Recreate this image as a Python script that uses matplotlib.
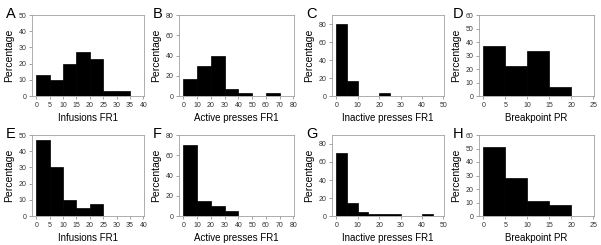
import matplotlib.pyplot as plt
import matplotlib as mpl
import numpy as np

# --- histogram data (percentage per bin)
inf_fr1_a = [13, 10, 20, 27, 23, 3, 3]
act_fr1_b = [17, 30, 40, 7, 3, 0, 3]
ina_fr1_c = [80, 17, 0, 0, 3]
brk_pr_d = [37, 22, 33, 7]
inf_fr1_e = [47, 30, 10, 5, 7.5]
act_fr1_f = [70, 15, 10, 5]
ina_fr1_g = [70, 15, 5, 2, 2, 2, 0, 0, 2]
brk_pr_h = [51, 28, 11, 8]

bin_widths = [5, 10, 5, 5, 5, 10, 5, 5]
xmax = [40, 80, 50, 25, 40, 80, 50, 25]
xstep = [5, 10, 10, 5, 5, 10, 10, 5]
ymax = [50, 80, 90, 60, 50, 80, 90, 60]
ystep = [10, 20, 20, 10, 10, 20, 20, 10]
xlabels = ['Infusions FR1', 'Active presses FR1', 'Inactive presses FR1', 'Breakpoint PR'] * 2
letters = ['A', 'B', 'C', 'D', 'E', 'F', 'G', 'H']
data = [inf_fr1_a, act_fr1_b, ina_fr1_c, brk_pr_d,
        inf_fr1_e, act_fr1_f, ina_fr1_g, brk_pr_h]

W, H = 601, 245
lefts = [32, 179, 332, 479]
rights = [144, 294, 444, 594]
tops = [15, 135]
bottoms = [96, 216]

mpl.rcParams['font.family'] = 'Liberation Sans'
fig = plt.figure(figsize=(W / 100, H / 100), dpi=100)

for i in range(8):
    r, c = divmod(i, 4)
    ax = fig.add_axes([lefts[c] / W, 1 - bottoms[r] / H,
                       (rights[c] - lefts[c]) / W, (bottoms[r] - tops[r]) / H])
    vals = data[i]
    w = bin_widths[i]
    x = np.arange(len(vals)) * w
    ax.bar(x, vals, width=w, align='edge', color='black', edgecolor='black', linewidth=0.5)
    ax.set_xlim(-0.04 * xmax[i], xmax[i] * 1.005)
    ax.set_ylim(0, ymax[i])
    ax.set_xticks(np.arange(0, xmax[i] + 1, xstep[i]))
    top_tick = 80 if ymax[i] == 90 else ymax[i]
    ax.set_yticks(np.arange(0, top_tick + 1, ystep[i]))
    ax.tick_params(labelsize=5, length=2, width=0.5, color='#808080', pad=2, labelcolor='#333333')
    for s in ax.spines.values():
        s.set_color('#a0a0a0')
        s.set_linewidth(0.6)
    ax.set_xlabel(xlabels[i], fontsize=7, labelpad=3)
    ax.set_ylabel('Percentage', fontsize=7.5, labelpad=3)
    fig.text((lefts[c] - 26) / W, 1 - (tops[r] - 8) / H, letters[i], fontsize=10.5,
             ha='left', va='top')

fig.savefig('out.png', dpi=100)
